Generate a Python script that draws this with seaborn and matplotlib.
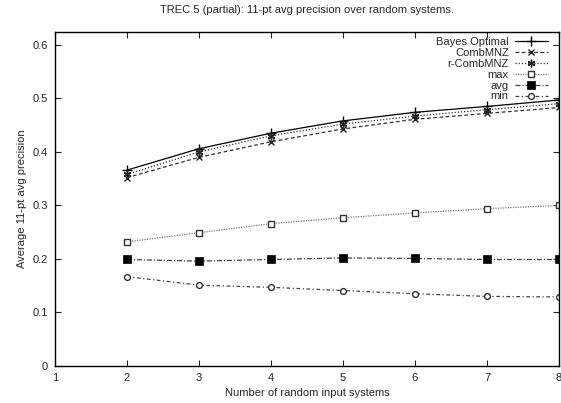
import matplotlib
matplotlib.use("Agg")
import matplotlib.pyplot as plt
import seaborn as sns
import pandas as pd

sns.set_style("ticks")
plt.rcParams['font.family'] = ['Liberation Sans', 'DejaVu Sans']

systems = [2, 3, 4, 5, 6, 7, 8]
bayes_optimal = [0.366, 0.406, 0.435, 0.458, 0.474, 0.485, 0.497]
combmnz = [0.352, 0.390, 0.419, 0.443, 0.461, 0.472, 0.483]
r_combmnz = [0.358, 0.400, 0.430, 0.452, 0.467, 0.479, 0.490]
max_vals = [0.232, 0.249, 0.266, 0.277, 0.286, 0.294, 0.300]
avg_vals = [0.199, 0.196, 0.199, 0.202, 0.201, 0.199, 0.199]
min_vals = [0.167, 0.151, 0.147, 0.141, 0.135, 0.130, 0.129]

series = [
    ("Bayes Optimal", bayes_optimal, dict(color="black", linestyle="-", marker="+", ms=6.5, mec="black", mew=1.0)),
    ("CombMNZ", combmnz, dict(color="#333333", linestyle=(0, (3, 2)), marker="x", ms=4.5, mec="#222222", mew=1.0)),
    ("r-CombMNZ", r_combmnz, dict(color="#333333", linestyle=(0, (1, 1.5)), marker=(6, 2, 0), ms=5.5, mec="#222222", mew=1.0)),
    ("max", max_vals, dict(color="#777777", linestyle=(0, (1, 1)), marker="s", ms=4.5, mfc="white", mec="#333333", mew=1.0)),
    ("avg", avg_vals, dict(color="#444444", linestyle=(0, (4, 1.5, 1, 1.5)), marker="s", ms=5.5, mfc="black", mec="black", mew=0.5)),
    ("min", min_vals, dict(color="#444444", linestyle=(0, (3, 2, 1, 2)), marker="o", ms=4.2, mfc="white", mec="#333333", mew=1.0)),
]

fig = plt.figure(figsize=(5.61, 4.03), dpi=100)
ax = fig.add_axes([55/561, 37/403, (559-55)/561, (366-31.5)/403])

for name, vals, kw in series:
    df = pd.DataFrame({"x": systems, "y": vals})
    sns.lineplot(data=df, x="x", y="y", ax=ax, label=name, lw=0.9, **kw)

ax.set_xlim(1, 8)
ax.set_ylim(0, 0.625)
ax.set_xticks(range(1, 9))
ax.set_yticks([0, 0.1, 0.2, 0.3, 0.4, 0.5, 0.6])
ax.set_yticklabels(["0", "0.1", "0.2", "0.3", "0.4", "0.5", "0.6"])
ax.tick_params(direction="in", length=4, width=0.8, labelsize=8, top=True, right=True, pad=5)
for s in ax.spines.values():
    s.set_visible(True)
    s.set_linewidth(1.0)
    s.set_color("black")

ax.set_xlabel("Number of random input systems", fontsize=8)
ax.set_ylabel("Average 11-pt avg precision", fontsize=8)
ax.set_title("TREC 5 (partial): 11-pt avg precision over random systems.", fontsize=8, pad=13)

ax.legend(loc="upper right", bbox_to_anchor=(0.995, 1.01), frameon=False, markerfirst=False,
          fontsize=8, handlelength=2.9, labelspacing=0.08, handletextpad=0.6, borderpad=0.3)

fig.savefig("out.png", dpi=100)
